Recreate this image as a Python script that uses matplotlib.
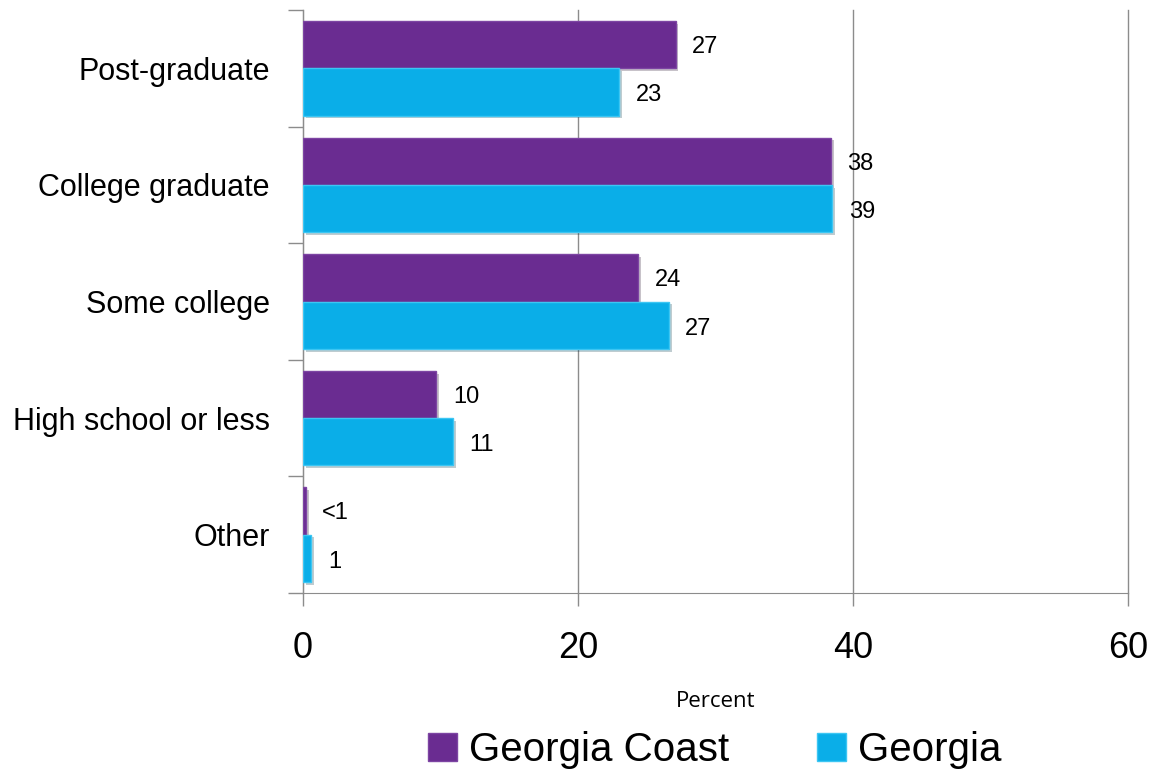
import numpy as np
import matplotlib.pyplot as plt
from matplotlib.patches import Patch
import matplotlib.patheffects as pe

# categories, bottom to top
categorias = ["Other", "High school or less", "Some college", "College graduate", "Post-graduate"]
coast = [0.2, 9.7, 24.4, 38.4, 27.1]
georgia = [0.6, 10.9, 26.6, 38.5, 23.0]
rot_coast = ["<1", "10", "24", "38", "27"]
rot_georgia = ["1", "11", "27", "39", "23"]

roxo = "#6a2c91"
azul = "#0aaee8"

fig = plt.figure(figsize=(11.53, 7.77), dpi=100)
ax = fig.add_axes([0.2628, 0.2368, 0.7155, 0.7503])

y = np.arange(len(categorias))
h = 0.405

sombra = [pe.SimplePatchShadow(offset=(2, -2), alpha=0.25), pe.Normal()]
b1 = ax.barh(y + h/2, coast, height=h, color=roxo, edgecolor="#7d45a3", linewidth=1.0, zorder=3)
b2 = ax.barh(y - h/2, georgia, height=h, color=azul, edgecolor="#3cc6f3", linewidth=1.0, zorder=3)
for b in list(b1) + list(b2):
    b.set_path_effects(sombra)

for i in range(len(categorias)):
    ax.text(coast[i] + 1.2, y[i] + h/2 - 0.02, rot_coast[i], va="center", ha="left",
            fontsize=17, family="Liberation Sans")
    ax.text(georgia[i] + 1.2, y[i] - h/2 - 0.03, rot_georgia[i], va="center", ha="left",
            fontsize=17, family="Liberation Sans")

ax.set_xlim(0, 60)
ax.set_ylim(-0.5, len(categorias) - 0.5)
ax.set_xticks([0, 20, 40, 60])
ax.set_xticklabels(["0", "20", "40", "60"], fontsize=26, family="Liberation Sans")
ax.set_yticks(y)
ax.set_yticklabels(categorias, fontsize=22, family="Liberation Sans")
ax.set_yticks(np.arange(-0.5, len(categorias)), minor=True)

ax.tick_params(axis="y", which="major", length=0, pad=24)
ax.tick_params(axis="y", which="minor", length=11, width=1, color="#8c8c8c")
ax.tick_params(axis="x", length=9, width=1, color="#8c8c8c", pad=18)

ax.grid(axis="x", color="#8c8c8c", linewidth=1, zorder=0)
for gl in ax.get_xgridlines():
    gl.set_clip_on(False)
for s in ["top", "right"]:
    ax.spines[s].set_visible(False)
for s in ["left", "bottom"]:
    ax.spines[s].set_color("#8c8c8c")

ax.set_xlabel("Percent", fontsize=16, family="Open Sans", labelpad=18)

leg = [Patch(facecolor=roxo, edgecolor="#7d45a3"), Patch(facecolor=azul, edgecolor="#3cc6f3")]
fig.legend(leg, ["Georgia Coast", "Georgia"], loc="lower center", bbox_to_anchor=(0.62, -0.036),
           ncol=2, frameon=False, prop={"family": "Liberation Sans", "size": 29},
           handlelength=0.7, handleheight=0.7, handletextpad=0.3, columnspacing=2.2)

fig.savefig("out.png", dpi=100)
